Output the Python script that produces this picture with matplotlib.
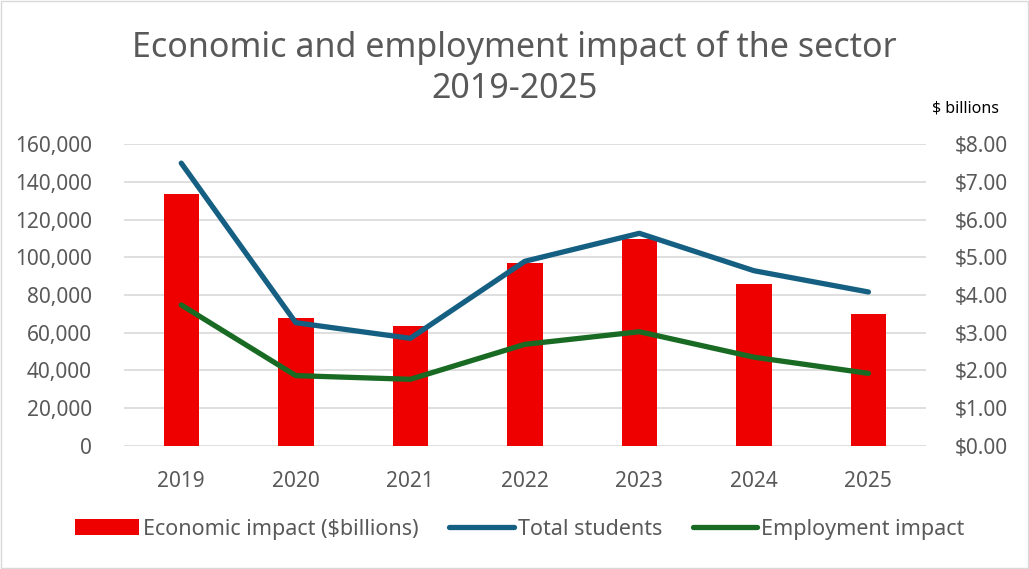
import matplotlib.pyplot as plt
from matplotlib.patches import Patch, Rectangle
from matplotlib.lines import Line2D
from matplotlib.ticker import FuncFormatter

plt.rcParams['font.family'] = ['Noto Sans', 'DejaVu Sans']

years = ['2019', '2020', '2021', '2022', '2023', '2024', '2025']
economic_impact = [6.69, 3.39, 3.18, 4.86, 5.48, 4.29, 3.49]   # $ billions
total_students = [150000, 65300, 57000, 97900, 112750, 92900, 81600]
employment_impact = [74700, 37200, 35250, 53800, 60500, 47000, 38400]

RED = '#EE0000'
BLUE = '#156082'
GREEN = '#196B24'
GREY = '#595959'

fig = plt.figure(figsize=(10.29, 5.69), dpi=100)
fig.patches.append(Rectangle((0.001, 0.001), 0.998, 0.997, transform=fig.transFigure,
                             fill=False, edgecolor='#D9D9D9', linewidth=1))

# right axis (bars + gridlines) sits behind the left axis (lines)
ax2 = fig.add_axes([0.1205, 0.2167, 0.7791, 0.5297])
ax1 = ax2.twinx()
ax1.yaxis.tick_left()
ax2.yaxis.tick_right()
ax1.set_zorder(ax2.get_zorder() + 1)
ax1.patch.set_visible(False)

x = list(range(len(years)))
ax2.bar(x, economic_impact, width=0.31, color=RED, zorder=2)
ax2.set_ylim(0, 8)
ax2.set_yticks(range(0, 9))
ax2.yaxis.set_major_formatter(FuncFormatter(lambda v, p: '${:.2f}'.format(v)))
ax2.grid(axis='y', color='#D9D9D9', linewidth=1.2)
ax2.set_axisbelow(True)

ax1.plot(x, total_students, color=BLUE, linewidth=3.8, solid_capstyle='round')
ax1.plot(x, employment_impact, color=GREEN, linewidth=3.8, solid_capstyle='round')
ax1.set_ylim(0, 160000)
ax1.set_yticks(range(0, 160001, 20000))
ax1.yaxis.set_major_formatter(FuncFormatter(lambda v, p: '{:,.0f}'.format(v)))

ax2.set_xlim(-0.5, len(years) - 0.5)
ax2.set_xticks(x)
ax2.set_xticklabels(years)

for ax in (ax1, ax2):
    for s in ax.spines.values():
        s.set_visible(False)
    ax.tick_params(length=0, labelsize=15, colors=GREY)
ax1.tick_params(axis='y', pad=23)
ax2.tick_params(axis='y', pad=21)
ax2.tick_params(axis='x', pad=18)

fig.text(0.5, 0.88, 'Economic and employment impact of the sector\n2019-2025',
         ha='center', va='center', fontsize=24.5, color=GREY, linespacing=1.3)
fig.text(0.938, 0.81, '$ billions', ha='center', va='center', fontsize=11.5, color='black')

handles = [Patch(facecolor=RED),
           Line2D([0], [0], color=BLUE, linewidth=3.8, solid_capstyle='round'),
           Line2D([0], [0], color=GREEN, linewidth=3.8, solid_capstyle='round')]
labels = ['Economic impact ($billions)', 'Total students', 'Employment impact']
fig.legend(handles, labels, loc='center', bbox_to_anchor=(0.505, 0.07), ncol=3,
           frameon=False, fontsize=15.5, labelcolor=GREY, handlelength=3.0,
           handleheight=0.8, handletextpad=0.2, columnspacing=1.4)

fig.savefig('out.png', dpi=100)
